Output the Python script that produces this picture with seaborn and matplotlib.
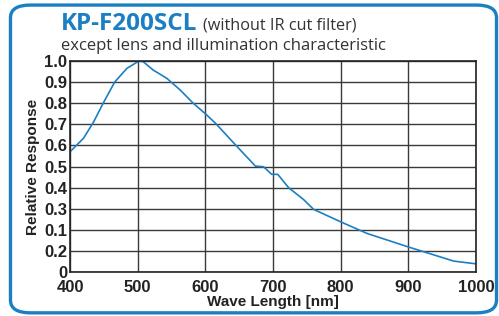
import numpy as np
import pandas as pd
import matplotlib
matplotlib.use("Agg")
import matplotlib.pyplot as plt
import seaborn as sns
from matplotlib.patches import FancyBboxPatch

# DATA
wavelength = [400, 420, 435, 449, 466, 484, 502, 508, 523, 543, 563, 582, 600,
              615, 647, 674, 686, 698, 707, 723, 745, 760, 800, 839, 899, 938,
              967, 1000]
response = [0.570, 0.634, 0.712, 0.800, 0.900, 0.965, 1.000, 0.997, 0.957,
            0.918, 0.862, 0.800, 0.750, 0.705, 0.594, 0.502, 0.499, 0.463,
            0.463, 0.400, 0.344, 0.297, 0.238, 0.183, 0.120, 0.081, 0.052,
            0.039]

x_ticks = [400, 500, 600, 700, 800, 900, 1000]
y_ticks = [0, 0.1, 0.2, 0.3, 0.4, 0.5, 0.6, 0.7, 0.8, 0.9, 1.0]
# the original sheet has 0.1 / 0.2 swapped
y_tick_labels = ["0", "0.2", "0.1", "0.3", "0.4", "0.5", "0.6", "0.7", "0.8", "0.9", "1.0"]

BLUE = "#1b7fc4"

df = pd.DataFrame({"Wave Length [nm]": wavelength, "Relative Response": response})

sns.set_theme(style="white")
plt.rcParams["font.family"] = ["Liberation Sans", "DejaVu Sans"]

fig = plt.figure(figsize=(4.99, 3.16), dpi=100)
ax = fig.add_axes([0.1403, 0.139, 0.8137, 0.668])

sns.lineplot(data=df, x="Wave Length [nm]", y="Relative Response",
             color=BLUE, linewidth=1.2, ax=ax)

ax.set_xlim(400, 1000)
ax.set_ylim(0, 1.0)
ax.set_xticks(x_ticks)
ax.set_yticks(y_ticks)
ax.set_yticklabels(y_tick_labels)
ax.grid(True, color="#3a3a3a", linewidth=1.0)
ax.set_axisbelow(True)
for s in ax.spines.values():
    s.set_color("#222222")
    s.set_linewidth(1.2)

ax.tick_params(axis="both", length=0, labelsize=12, colors="#222222")
ax.tick_params(axis="x", pad=6)
ax.tick_params(axis="y", pad=2)
for lbl in ax.get_xticklabels() + ax.get_yticklabels():
    lbl.set_fontweight("bold")

ax.set_xlabel("Wave Length [nm]", fontsize=11, fontweight="bold", color="#222222", labelpad=0)
ax.set_ylabel("Relative Response", fontsize=11, fontweight="bold", color="#222222", labelpad=3)

# titles
fig.text(0.122, 0.905, "KP-F200SCL", fontsize=17.5, fontweight="bold",
         color=BLUE, family=["Open Sans", "DejaVu Sans"])
fig.text(0.406, 0.908, "(without IR cut filter)", fontsize=11.7,
         color="#333333", family=["Open Sans", "DejaVu Sans"])
fig.text(0.122, 0.842, "except lens and illumination characteristic", fontsize=12,
         color="#333333", family=["Open Sans", "DejaVu Sans"])

# rounded frame
frame = FancyBboxPatch((0.021, 0.01), 0.974, 0.974,
                       boxstyle="round,pad=0,rounding_size=0.04",
                       transform=fig.transFigure, fill=False,
                       edgecolor=BLUE, linewidth=2.4)
fig.patches.append(frame)

fig.savefig("out.png", dpi=100)
plt.close(fig)
